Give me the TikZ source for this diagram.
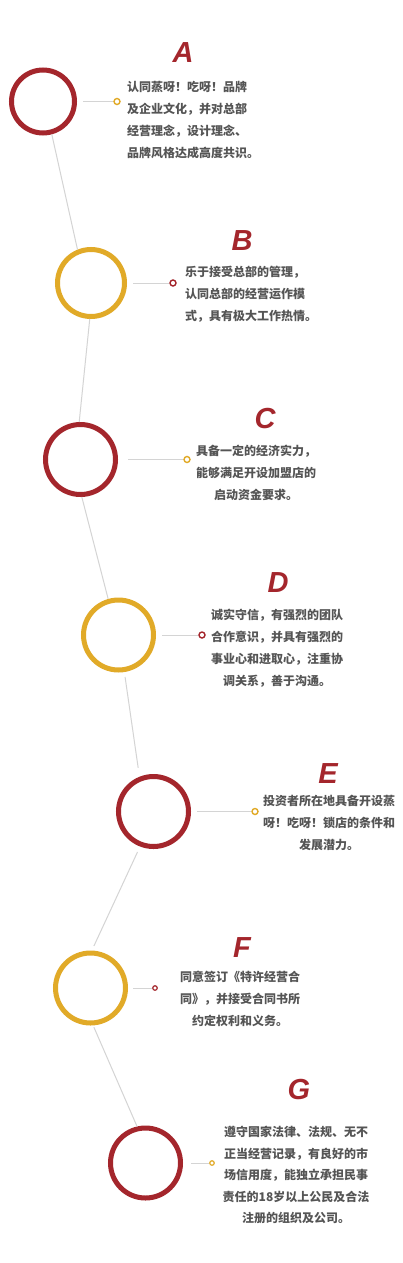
\documentclass[tikz,border=0pt]{standalone}
\usepackage{fontspec}
\newfontfamily\cjk{Noto Sans CJK SC}
\newfontfamily\lettf{Liberation Sans}
\definecolor{cred}{HTML}{A4262C}
\definecolor{cgold}{HTML}{E1AA28}
\definecolor{cline}{HTML}{D4D4D4}
\definecolor{ctext}{HTML}{555555}
\begin{document}
\begin{tikzpicture}[x=1pt,y=-1pt,
 ring/.style={circle,draw,line width=5pt,fill=white,inner sep=0pt},
 dot/.style={circle,draw,line width=1.4pt,fill=white,inner sep=0pt,minimum size=6pt},
 smalldot/.style={dot,line width=1.2pt,minimum size=4.5pt},
 letter/.style={font=\lettf\fontsize{29}{29}\selectfont\bfseries\itshape,text=cred,inner sep=0pt},
 body/.style={font=\cjk\fontsize{12}{22}\selectfont\bfseries,text=ctext,inner sep=0pt},
 link/.style={draw=cline,line width=1pt},
]
\useasboundingbox[fill=white] (0,0) rectangle (403,1263);

% circles
\node[ring,draw=cred,minimum size=63pt] (A) at (43,101.5) {};
\node[ring,draw=cgold,minimum size=67pt] (B) at (91,283) {};
\node[ring,draw=cred,minimum size=70pt] (C) at (80.5,459.5) {};
\node[ring,draw=cgold,minimum size=70pt] (D) at (118.5,635) {};
\node[ring,draw=cred,minimum size=70pt] (E) at (153.5,811.5) {};
\node[ring,draw=cgold,minimum size=70pt] (F) at (90.5,988) {};
\node[ring,draw=cred,minimum size=70pt] (G) at (145.5,1163) {};

% dots
\node[dot,draw=cgold] (da) at (117,101.5) {};
\node[dot,draw=cred] (db) at (173,283) {};
\node[dot,draw=cgold] (dc) at (187,459.5) {};
\node[dot,draw=cred] (dd) at (202,635) {};
\node[dot,draw=cgold] (de) at (255,811.5) {};
\node[smalldot,draw=cred] (df) at (155,988) {};
\node[smalldot,draw=cgold] (dg) at (212,1163) {};

% vertical links
\draw[link] (A.-75) -- (B.112);
\draw[link] (B.-92) -- (C.92);
\draw[link] (C.-88) -- (D.106);
\draw[link,shorten <=5pt,shorten >=9pt] (D.-81) -- (E.112);
\draw[link,shorten <=6pt,shorten >=5pt] (E.-111) -- (F.88);
\draw[link,shorten <=2pt] (F.-86) -- (G.103);

% horizontal links
\draw[link,shorten <=6pt] (A) -- (da);
\draw[link,shorten <=6pt] (B) -- (db);
\draw[link,shorten <=10pt] (C) -- (dc);
\draw[link,shorten <=6pt] (D) -- (dd);
\draw[link,shorten <=6pt] (E) -- (de);
\draw[link,shorten <=5pt] (F) -- (df);
\draw[link,shorten <=8pt] (G) -- (dg);

% letters
\node[letter] (la) at (183,53) {A};
\node[letter] (lb) at (242,241) {B};
\node[letter] (lc) at (265,419) {C};
\node[letter] (ld) at (278,583) {D};
\node[letter] (le) at (328,774) {E};
\node[letter] (lf) at (242,948) {F};
\node[letter] (lg) at (299,1089) {G};

% texts
\node[body,align=left,anchor=west] (ta) at (127,120.5)
 {认同蒸呀！吃呀！品牌\\及企业文化，并对总部\\经营理念，设计理念、\\品牌风格达成高度共识。};
\node[body,align=left,anchor=west] (tb) at (185,294)
 {乐于接受总部的管理，\\认同总部的经营运作模\\式，具有极大工作热情。};
\node[body,align=center] (tc) at (256,473)
 {具备一定的经济实力，\\能够满足开设加盟店的\\启动资金要求。};
\node[body,align=center] (td) at (277,648.5)
 {诚实守信，有强烈的团队\\合作意识，并具有强烈的\\事业心和进取心，注重协\\调关系，善于沟通。};
\node[body,align=center] (te) at (329,822.5)
 {投资者所在地具备开设蒸\\呀！吃呀！锁店的条件和\\发展潜力。};
\node[body,align=center] (tf) at (240,999)
 {同意签订《特许经营合\\同》，并接受合同书所\\约定权利和义务。};
\node[body,align=center,font=\cjk\fontsize{12}{21.5}\selectfont\bfseries] (tg) at (296,1175)
 {遵守国家法律、法规、无不\\正当经营记录，有良好的市\\场信用度，能独立承担民事\\责任的18岁以上公民及合法\\注册的组织及公司。};
\end{tikzpicture}
\end{document}
